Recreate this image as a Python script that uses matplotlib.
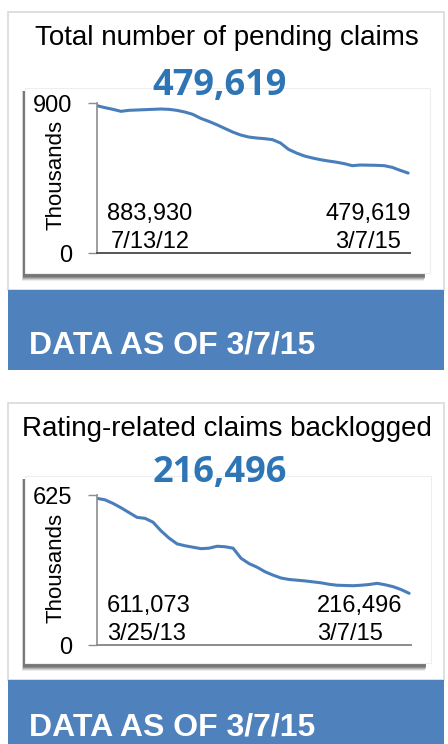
import matplotlib
matplotlib.use("Agg")
import matplotlib.pyplot as plt
from matplotlib.patches import Rectangle
import numpy as np

# pending claims, thousands (7/13/12 -> 3/7/15)
pending = [883.93, 872, 862, 850, 856, 858, 860, 862, 864, 862,
           856, 846, 832, 808, 790, 770, 748, 726, 708, 696,
           690, 686, 680, 660, 622, 600, 582, 570, 560, 552,
           545, 536, 524, 528, 527, 526, 524, 514, 496, 479.619]
# rating-related backlog, thousands (3/25/13 -> 3/7/15)
backlog = [611.073, 605, 590, 572, 552, 532, 528, 512, 476, 446,
           422, 414, 408, 402, 404, 412, 410, 404, 362, 340,
           325, 306, 292, 280, 274, 271, 268, 264, 260, 254,
           250, 249, 248, 250, 253, 258, 252, 244, 232, 216.496]

titles = ["Total number of pending claims", "Rating-related claims backlogged"]
big_numbers = ["479,619", "216,496"]
ymax = [900, 625]
start_labels = [("883,930", "7/13/12"), ("611,073", "3/25/13")]
end_labels = [("479,619", "3/7/15"), ("216,496", "3/7/15")]
footer = "DATA AS OF 3/7/15"

W, H = 448, 744
BAND = "#4F81BD"
LINE = "#4A7EBB"
NUM = "#2E75B6"
SANS = ["Liberation Sans", "DejaVu Sans"]

fig = plt.figure(figsize=(W / 100, H / 100), dpi=100)
fig.patch.set_facecolor("white")

# overlay in pixel coordinates
bg = fig.add_axes([0, 0, 1, 1])
bg.set_xlim(0, W)
bg.set_ylim(H, 0)
bg.axis("off")


def pix_axes(left, top, right, bottom):
    return fig.add_axes([left / W, (H - bottom) / H, (right - left) / W, (bottom - top) / H])


# layout per panel (pixels)
panels = [
    dict(outer=(8, 12, 444, 290), band=(290, 370), inner=(25, 88, 430, 273),
         title_y=45, num_y=95, axes=(97, 103, 410, 253), thous=(62, 175),
         ann_y=(220, 248), ann_x=(150, 368), ha="center", foot_y=353),
    dict(outer=(8, 403, 444, 680), band=(680, 760), inner=(25, 476, 431, 663),
         title_y=436, num_y=482, axes=(97, 495, 411, 645.4), thous=(62, 568),
         ann_y=(612, 640), ann_x=(107, 317), ha="left", foot_y=736),
]
series = [pending, backlog]

for i, p in enumerate(panels):
    x0, y0, x1, y1 = p["outer"]
    bg.add_patch(Rectangle((x0, y0), x1 - x0, y1 - y0, facecolor="white",
                           edgecolor="#d9d9d9", lw=1.2, zorder=1))
    b0, b1 = p["band"]
    bg.add_patch(Rectangle((x0, b0), x1 - x0, b1 - b0, facecolor=BAND,
                           edgecolor="none", zorder=2))
    bg.text(29, p["foot_y"], footer, color="white", fontsize=23, fontweight="bold",
            family=SANS, ha="left", va="baseline", zorder=3)

    # inner box with soft shadow (bottom / left)
    ix0, iy0, ix1, iy1 = p["inner"]
    for k, a in enumerate([0.12, 0.2, 0.3, 0.45, 0.6]):
        off = 5 - k
        bg.add_patch(Rectangle((ix0 - 3 + k * 0.3, iy0 + 3), ix1 - ix0 - 3, iy1 - iy0 + off,
                               facecolor="#666666", edgecolor="none", alpha=a, zorder=3))
    bg.add_patch(Rectangle((ix0, iy0), ix1 - ix0, iy1 - iy0, facecolor="white",
                           edgecolor="#eeeeee", lw=0.8, zorder=4))

    bg.text(227, p["title_y"], titles[i], fontsize=20, family=SANS, color="black",
            ha="center", va="baseline", zorder=5)
    bg.text(220, p["num_y"], big_numbers[i], fontsize=26, fontweight="bold",
            family=["Open Sans", "DejaVu Sans"], color=NUM, ha="center",
            va="baseline", zorder=5)
    tx, ty = p["thous"]
    bg.text(tx, ty, "Thousands", fontsize=16, family=SANS, rotation=90,
            rotation_mode="anchor", ha="center", va="baseline", zorder=5)

    for (txt_a, txt_b), ax_x in zip([start_labels[i], end_labels[i]], p["ann_x"]):
        bg.text(ax_x, p["ann_y"][0], txt_a, fontsize=17, family=SANS,
                ha=p["ha"], va="baseline", zorder=5)
        bg.text(ax_x, p["ann_y"][1], txt_b, fontsize=17, family=SANS,
                ha=p["ha"], va="baseline", zorder=5)

    # data axes
    ax = pix_axes(*p["axes"])
    ax.patch.set_alpha(0)
    vals = series[i]
    x = np.arange(len(vals))
    ax.plot(x, vals, color=LINE, lw=2.2, solid_capstyle="round")
    ax.set_xlim(0, (len(vals) - 1) * 1.006)
    ax.set_ylim(0, ymax[i])
    ax.set_yticks([0, ymax[i]])
    ax.set_yticklabels(["0", str(ymax[i])], family=SANS, fontsize=17)
    ax.set_xticks([])
    for s in ["top", "right"]:
        ax.spines[s].set_visible(False)
    ax.spines["left"].set_color("#8c8c8c")
    ax.spines["bottom"].set_color("#555555" if i == 0 else "#8c8c8c")
    ax.spines["left"].set_linewidth(1.2)
    ax.spines["bottom"].set_linewidth(1.4)
    ax.tick_params(axis="y", length=6.5, width=1, color="#8c8c8c", pad=11.5)

fig.savefig("out.png", dpi=100)
